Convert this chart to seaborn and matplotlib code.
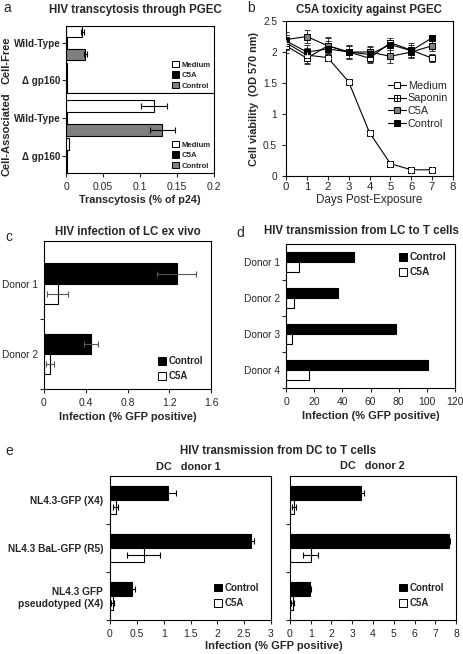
import matplotlib
matplotlib.use("Agg")
import matplotlib.pyplot as plt
import pandas as pd
import seaborn as sns
from matplotlib.patches import Patch
from matplotlib.lines import Line2D

# ---- data ---------------------------------------------------------------
A_GROUPS = ["Wild-Type", "\u0394 gp160"]
A_TREATMENTS = ["Medium", "C5A", "Control"]
A_FREE_MEDIUM = [0.022, 0.0010]
A_FREE_C5A = [0.0008, 0.0008]
A_FREE_CONTROL = [0.026, 0.0010]
A_FREE_MEDIUM_ERR = [0.002, 0.0]
A_FREE_CONTROL_ERR = [0.002, 0.0]
A_CELL_MEDIUM = [0.119, 0.0035]
A_CELL_C5A = [0.0010, 0.0010]
A_CELL_CONTROL = [0.130, 0.0020]
A_CELL_MEDIUM_ERR = [0.018, 0.0]
A_CELL_CONTROL_ERR = [0.017, 0.0]

B_DAYS = [0, 1, 2, 3, 4, 5, 6, 7]
B_MEDIUM = [2.10, 1.90, 2.10, 2.00, 1.90, 2.15, 2.03, 1.90]
B_SAPONIN = [2.15, 1.95, 1.91, 1.52, 0.70, 0.20, 0.10, 0.10]
B_C5A = [2.20, 2.25, 2.10, 2.00, 2.00, 1.93, 2.00, 2.10]
B_CONTROL = [2.18, 2.00, 2.05, 2.00, 1.96, 2.12, 2.02, 2.23]
B_MEDIUM_ERR = [0.12, 0.10, 0.12, 0.10, 0.08, 0.08, 0.12, 0.06]
B_SAPONIN_ERR = [0.12, 0.12, 0.05, 0.02, 0.02, 0.02, 0.01, 0.01]
B_C5A_ERR = [0.12, 0.10, 0.14, 0.10, 0.10, 0.10, 0.08, 0.08]
B_CONTROL_ERR = [0.10, 0.12, 0.12, 0.12, 0.12, 0.08, 0.10, 0.05]

C_DONORS = ["Donor 1", "Donor 2"]
C_CONTROL = [1.27, 0.45]
C_CONTROL_ERR = [0.19, 0.07]
C_C5A = [0.13, 0.06]
C_C5A_ERR = [0.10, 0.04]

D_DONORS = ["Donor 1", "Donor 2", "Donor 3", "Donor 4"]
D_CONTROL = [48, 37, 78, 101]
D_C5A = [9, 6, 4, 16]

E_VIRUSES = ["NL4.3-GFP (X4)", "NL4.3 BaL-GFP (R5)", "NL4.3 GFP\npseudotyped (X4)"]
E1_CONTROL = [1.08, 2.62, 0.41]
E1_CONTROL_ERR = [0.15, 0.06, 0.05]
E1_C5A = [0.11, 0.63, 0.05]
E1_C5A_ERR = [0.045, 0.31, 0.03]
E2_CONTROL = [3.41, 7.68, 0.97]
E2_CONTROL_ERR = [0.15, 0.05, 0.05]
E2_C5A = [0.19, 1.00, 0.13]
E2_C5A_ERR = [0.10, 0.37, 0.08]

# ---- style --------------------------------------------------------------
sns.set_style("ticks")
plt.rcParams["font.family"] = ["Liberation Sans", "DejaVu Sans"]
plt.rcParams["axes.linewidth"] = 0.8
plt.rcParams["xtick.major.width"] = 0.8
plt.rcParams["ytick.major.width"] = 0.8
plt.rcParams["ytick.minor.width"] = 0.8
plt.rcParams["xtick.major.size"] = 3
plt.rcParams["ytick.major.size"] = 3
plt.rcParams["ytick.minor.size"] = 3
plt.rcParams["xtick.labelsize"] = 7.5
plt.rcParams["ytick.labelsize"] = 7.3
plt.rcParams["axes.edgecolor"] = "black"

W, H = 464, 654
fig = plt.figure(figsize=(W / 100, H / 100), dpi=100)


def add_ax(left, top, right, bottom):
    return fig.add_axes([left / W, 1 - bottom / H, (right - left) / W, (bottom - top) / H])


def fig_text(x, y, s, **kw):
    fig.text(x / W, 1 - y / H, s, va="center", **kw)


def grouped_barh(ax, groups, treatments, values, errors, colors, width, err_color="black"):
    rows = []
    for t, vals in zip(treatments, values):
        for g, v in zip(groups, vals):
            rows.append({"group": g, "treatment": t, "value": v})
    df = pd.DataFrame(rows)
    sns.barplot(data=df, y="group", x="value", hue="treatment", order=groups,
                hue_order=treatments, palette=colors, orient="h", width=width,
                edgecolor="black", linewidth=0.8, errorbar=None, legend=False,
                saturation=1, ax=ax)
    for cont, vals, errs in zip(ax.containers, values, errors):
        if errs is None:
            continue
        for bar, v, e in zip(cont, vals, errs):
            if e <= 0:
                continue
            yc = bar.get_y() + bar.get_height() / 2
            ax.errorbar(v, yc, xerr=e, fmt="none", ecolor=err_color,
                        elinewidth=0.8, capsize=2.2, capthick=0.8, zorder=5)
    for s in ax.spines.values():
        s.set_visible(True)
    ax.set_ylabel("")
    ax.set_xlabel("")


# ---- panel a ------------------------------------------------------------
a_colors = {"Medium": "white", "C5A": "black", "Control": "#7f7f7f"}
ax_a1 = add_ax(66, 26, 214, 93)
ax_a2 = add_ax(66, 93, 214, 173)
grouped_barh(ax_a1, A_GROUPS, A_TREATMENTS,
             [A_FREE_MEDIUM, A_FREE_C5A, A_FREE_CONTROL],
             [A_FREE_MEDIUM_ERR, None, A_FREE_CONTROL_ERR], a_colors, 0.9)
grouped_barh(ax_a2, A_GROUPS, A_TREATMENTS,
             [A_CELL_MEDIUM, A_CELL_C5A, A_CELL_CONTROL],
             [A_CELL_MEDIUM_ERR, None, A_CELL_CONTROL_ERR], a_colors, 0.95)
ax_a1.set_ylim(1.35, -0.46)
ax_a2.set_ylim(1.45, -0.66)
for ax in (ax_a1, ax_a2):
    ax.set_xlim(0, 0.2)
    ax.tick_params(axis="y", labelsize=7.1, pad=1)
    for lab in ax.get_yticklabels():
        lab.set_fontweight("bold")
ax_a1.set_xticks([0, 0.05, 0.1, 0.15, 0.2])
ax_a1.tick_params(axis="x", bottom=False, labelbottom=False)
ax_a2.set_xticks([0, 0.05, 0.1, 0.15, 0.2])
ax_a2.set_xticklabels(["0", "0.05", "0.1", "0.15", "0.2"])
fig_text(7, 60, "Cell-Free", ha="center", rotation=90, fontsize=8, fontweight="bold")
fig_text(7, 134, "Cell-Associated", ha="center", rotation=90, fontsize=8, fontweight="bold")
ax_a2.set_xlabel("Transcytosis (% of p24)", fontsize=7.8, fontweight="bold", labelpad=2)
a_handles = [Patch(facecolor=a_colors[t], edgecolor="black", linewidth=0.7) for t in A_TREATMENTS]
for ax in (ax_a1, ax_a2):
    ax.legend(a_handles, A_TREATMENTS, loc="lower right", frameon=False,
              prop={"size": 5.6, "weight": "bold"}, handlelength=0.9,
              handleheight=0.9, handletextpad=0.4, labelspacing=0.35,
              borderaxespad=0.2, borderpad=0.2)
fig_text(135, 10, "HIV transcytosis through PGEC", ha="center", fontsize=8.3, fontweight="bold")
fig_text(3, 8, "a", ha="left", fontsize=10)

# ---- panel b ------------------------------------------------------------
ax_b = add_ax(286, 21, 453, 176)
b_series = [
    ("Medium", B_MEDIUM, B_MEDIUM_ERR, "white"),
    ("Saponin", B_SAPONIN, B_SAPONIN_ERR, "white"),
    ("C5A", B_C5A, B_C5A_ERR, "#808080"),
    ("Control", B_CONTROL, B_CONTROL_ERR, "black"),
]
b_handles = []
for name, vals, errs, fc in b_series:
    ax_b.errorbar(B_DAYS, vals, yerr=errs, fmt="none", ecolor="#333333",
                  elinewidth=0.7, capsize=2.5, capthick=0.7, zorder=2)
    sns.lineplot(x=B_DAYS, y=vals, ax=ax_b, color="black", linewidth=0.8,
                 marker="s", markersize=5, markerfacecolor=fc,
                 markeredgecolor="black", markeredgewidth=0.7, zorder=3)
    h = Line2D([], [], color="black", linewidth=0.8, marker="s", markersize=5,
               markerfacecolor=fc, markeredgecolor="black", markeredgewidth=0.7)
    if name == "Saponin":
        sns.lineplot(x=B_DAYS, y=vals, ax=ax_b, color="black", linewidth=0,
                     marker="+", markersize=5, markeredgewidth=0.6, zorder=4)
        h2 = Line2D([], [], linewidth=0, marker="+", markersize=5,
                    color="black", markeredgewidth=0.6)
        h = (h, h2)
    b_handles.append(h)
ax_b.set_xlim(0, 8)
ax_b.set_ylim(0, 2.5)
ax_b.set_xticks(range(0, 9))
ax_b.set_yticks([0, 0.5, 1, 1.5, 2, 2.5])
ax_b.set_yticklabels(["0", "0.5", "1", "1.5", "2", "2.5"])
ax_b.tick_params(axis="x", labelsize=8.2, pad=1.5)
ax_b.set_xlabel("Days Post-Exposure", fontsize=8.4, labelpad=1)
ax_b.set_ylabel("Cell viability  (OD 570 nm)", fontsize=7.8, fontweight="bold", labelpad=3)
ax_b.legend(b_handles, [s[0] for s in b_series], loc="upper left",
            bbox_to_anchor=(0.58, 0.65), frameon=False, prop={"size": 7.8},
            handlelength=1.6, handletextpad=0.2, labelspacing=0.25, borderpad=0)
fig_text(369, 10, "C5A toxicity against PGEC", ha="center", fontsize=8.3, fontweight="bold")
fig_text(247, 8, "b", ha="left", fontsize=10)

# ---- panel c ------------------------------------------------------------
cd_colors = {"Control": "black", "C5A": "white"}
cd_handles = [Patch(facecolor="black", edgecolor="black", linewidth=0.7),
              Patch(facecolor="white", edgecolor="black", linewidth=0.7)]
ax_c = add_ax(44, 241, 211, 389)
grouped_barh(ax_c, C_DONORS, ["Control", "C5A"], [C_CONTROL, C_C5A],
             [C_CONTROL_ERR, C_C5A_ERR], cd_colors, 0.58, err_color="#555555")
ax_c.set_xlim(0, 1.6)
ax_c.set_xticks([0, 0.4, 0.8, 1.2, 1.6])
ax_c.set_xticklabels(["0", "0.4", "0.8", "1.2", "1.6"])
ax_c.set_ylim(1.5, -0.61)
ax_c.set_yticks([0.5, 1.5], minor=True)
ax_c.tick_params(axis="y", which="major", length=0, pad=4)
ax_c.set_xlabel("Infection (% GFP positive)", fontsize=8, fontweight="bold", labelpad=3)
ax_c.legend(cd_handles, ["Control", "C5A"], loc="lower right", frameon=False,
            prop={"size": 7, "weight": "bold"}, handlelength=0.8, handleheight=0.8,
            handletextpad=0.3, labelspacing=0.5, borderaxespad=0.4)
fig_text(128, 232, "HIV infection of LC ex vivo", ha="center", fontsize=8.3, fontweight="bold")
fig_text(5, 237, "c", ha="left", fontsize=10)

# ---- panel d ------------------------------------------------------------
ax_d = add_ax(286, 244, 455, 388)
grouped_barh(ax_d, D_DONORS, ["Control", "C5A"], [D_CONTROL, D_C5A],
             [None, None], cd_colors, 0.56)
ax_d.set_xlim(0, 120)
ax_d.set_xticks(range(0, 121, 20))
ax_d.set_ylim(3.5, -0.5)
ax_d.set_yticks([0.5, 1.5, 2.5, 3.5], minor=True)
ax_d.tick_params(axis="y", which="major", length=0, pad=4)
ax_d.set_xlabel("Infection (% GFP positive)", fontsize=8, fontweight="bold", labelpad=3)
ax_d.legend(cd_handles, ["Control", "C5A"], loc="upper right", frameon=False,
            prop={"size": 7.4, "weight": "bold"}, handlelength=0.8, handleheight=0.8,
            handletextpad=0.3, labelspacing=0.5, borderaxespad=0.4)
fig_text(361, 231, "HIV transmission from LC to T cells", ha="center", fontsize=8.3, fontweight="bold")
fig_text(236, 233, "d", ha="left", fontsize=10)

# ---- panel e ------------------------------------------------------------
ax_e1 = add_ax(110, 476, 271, 620)
ax_e2 = add_ax(290, 476, 456, 620)
grouped_barh(ax_e1, E_VIRUSES, ["Control", "C5A"], [E1_CONTROL, E1_C5A],
             [E1_CONTROL_ERR, E1_C5A_ERR], cd_colors, 0.6)
grouped_barh(ax_e2, E_VIRUSES, ["Control", "C5A"], [E2_CONTROL, E2_C5A],
             [E2_CONTROL_ERR, E2_C5A_ERR], cd_colors, 0.6)
ax_e1.set_xlim(0, 3)
ax_e1.set_xticks([0, 0.5, 1, 1.5, 2, 2.5, 3])
ax_e1.set_xticklabels(["0", "0.5", "1", "1.5", "2", "2.5", "3"])
ax_e2.set_xlim(0, 8)
ax_e2.set_xticks(range(0, 9))
for ax in (ax_e1, ax_e2):
    ax.set_ylim(2.5, -0.5)
    ax.set_yticks([0.5, 1.5, 2.5], minor=True)
    ax.tick_params(axis="y", which="major", length=0, pad=5)
    ax.legend(cd_handles, ["Control", "C5A"], loc="lower right", frameon=False,
              prop={"size": 7, "weight": "bold"}, handlelength=0.8, handleheight=0.8,
              handletextpad=0.3, labelspacing=0.55, borderaxespad=0.8)
for lab in ax_e1.get_yticklabels():
    lab.set_fontweight("bold")
ax_e2.set_yticklabels([])
fig_text(188, 467, "DC   donor 1", ha="center", fontsize=7.8, fontweight="bold")
fig_text(372, 466, "DC   donor 2", ha="center", fontsize=7.8, fontweight="bold")
fig_text(278, 451, "HIV transmission from DC to T cells", ha="center", fontsize=8.3, fontweight="bold")
fig_text(5, 451, "e", ha="left", fontsize=10)
fig_text(274, 646, "Infection (% GFP positive)", ha="center", fontsize=8, fontweight="bold")

fig.savefig("out.png", dpi=100)
